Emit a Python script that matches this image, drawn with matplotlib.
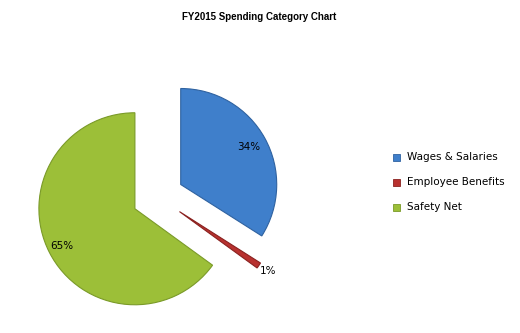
import numpy as np
import matplotlib
matplotlib.use("Agg")
import matplotlib.pyplot as plt
from matplotlib.patches import Rectangle

TITLE = "FY2015 Spending Category Chart"
categories = ["Wages & Salaries", "Employee Benefits", "Safety Net"]
shares = [34, 1, 65]
pct_labels = ["34%", "1%", "65%"]
colors = ["#3f7fcb", "#b8312f", "#9cbf38"]
edge_colors = ["#2f62a0", "#8a2220", "#7a9a28"]
label_dist = [0.81, 1.11, 0.85]

W, H = 520, 333
fig = plt.figure(figsize=(W / 100, H / 100), dpi=100)
fig.patch.set_facecolor("white")

# pie axes: centre at (158, 197) px from top-left, radius ~96 px
R = 96.0
half = 130.0
cx, cy = 158.0, 197.0
ax = fig.add_axes([(cx - half) / W, (H - cy - half) / H, 2 * half / W, 2 * half / H])

wedges, _ = ax.pie(shares, colors=colors, startangle=90, counterclock=False,
                   explode=[0.27, 0.27, 0.27],
                   wedgeprops=dict(linewidth=0.8))
for w, ec in zip(wedges, edge_colors):
    w.set_edgecolor(ec)

for w, txt, d in zip(wedges, pct_labels, label_dist):
    ang = np.deg2rad((w.theta1 + w.theta2) / 2)
    x0, y0 = w.center
    ax.text(x0 + d * np.cos(ang), y0 + d * np.sin(ang), txt,
            ha="center", va="center", fontsize=7.5, color="black")

lim = half / R
ax.set_xlim(-lim, lim)
ax.set_ylim(-lim, lim)
ax.set_aspect("auto")
ax.axis("off")

fig.text(259 / W, 1 - 17 / H, TITLE, ha="center", va="center",
         fontsize=7, fontweight="bold", family="Liberation Sans")

# legend
for i, (name, c, ec) in enumerate(zip(categories, colors, edge_colors)):
    y = 157 + 25 * i
    fig.patches.append(Rectangle(((396 - 3.5) / W, 1 - (y + 3.5) / H), 7 / W, 7 / H,
                                 facecolor=c, edgecolor=ec, linewidth=0.6,
                                 transform=fig.transFigure, figure=fig))
    fig.text(407 / W, 1 - y / H, name, ha="left", va="center", fontsize=7.5)

fig.savefig("out.png", dpi=100)
